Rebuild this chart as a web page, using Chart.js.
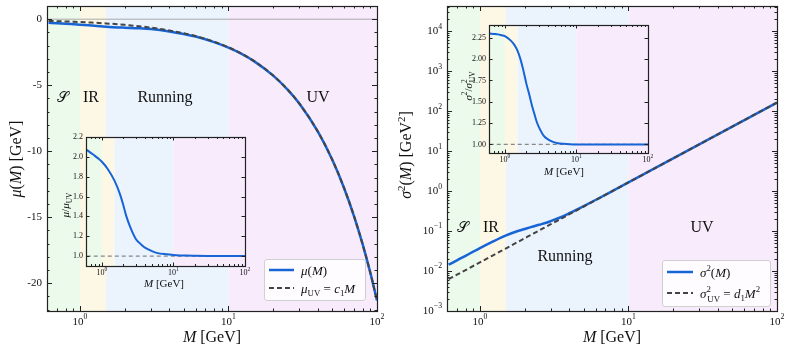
<!DOCTYPE html>
<html><head><meta charset="utf-8">
<script src="https://cdn.jsdelivr.net/npm/chart.js@4"></script>
<style>
body{margin:0;width:793px;height:355px;overflow:hidden;background:#fff;font-family:"Liberation Serif","DejaVu Serif",serif;}
canvas{position:absolute;left:0;top:0;}
.t{position:absolute;white-space:nowrap;color:#111;transform:translate(-50%,-50%);line-height:1;}
.r{transform:translate(-50%,-50%) rotate(-90deg);}
sub,sup{font-size:0.68em;line-height:0;}
.leg{position:absolute;background:rgba(255,255,255,0.85);border:1px solid #d0d0d0;border-radius:3px;}
.leg svg{position:absolute;left:0;top:0;}
</style></head><body>
<canvas id="cL" width="793" height="355"></canvas>
<canvas id="cR" width="793" height="355"></canvas>
<canvas id="iL" width="793" height="355"></canvas>
<canvas id="iR" width="793" height="355"></canvas>

<div class="t" style="left:63px;top:97px;font-size:15px">𝒮</div>
<div class="t" style="left:91px;top:97px;font-size:16px">IR</div>
<div class="t" style="left:165px;top:97px;font-size:16px">Running</div>
<div class="t" style="left:318px;top:97px;font-size:16px">UV</div>
<div class="t" style="left:463px;top:227px;font-size:15px">𝒮</div>
<div class="t" style="left:491px;top:227px;font-size:16px">IR</div>
<div class="t" style="left:565px;top:256px;font-size:16px">Running</div>
<div class="t" style="left:702px;top:227px;font-size:16px">UV</div>

<div class="t" style="left:212px;top:337px;font-size:16px"><i>M</i> [GeV]</div>
<div class="t" style="left:612px;top:337px;font-size:16px"><i>M</i> [GeV]</div>
<div class="t r" style="left:16px;top:159px;font-size:16px"><i>μ</i>(<i>M</i>) [GeV]</div>
<div class="t r" style="left:406px;top:155px;font-size:16px"><i>σ</i><sup>2</sup>(<i>M</i>) [GeV<sup>2</sup>]</div>

<div class="t" style="left:164px;top:283px;font-size:11px"><i>M</i> [GeV]</div>
<div class="t r" style="left:65px;top:205px;font-size:11px"><i>μ</i>/<i>μ</i><sub>UV</sub></div>
<div class="t" style="left:564px;top:171px;font-size:11px"><i>M</i> [GeV]</div>
<div class="t r" style="left:468px;top:86px;font-size:11px"><i>σ</i><sup>2</sup>/<i>σ</i><sup>2</sup><sub style="margin-left:-0.4em">UV</sub></div>

<div class="leg" style="left:264px;top:259px;width:100px;height:40px">
<svg width="100" height="40"><line x1="4" y1="10" x2="29" y2="10" stroke="#1764d6" stroke-width="2.5"/><line x1="4" y1="28" x2="29" y2="28" stroke="#444" stroke-width="2" stroke-dasharray="5,3"/></svg>
<div class="t" style="left:36px;top:10px;transform:translateY(-50%);font-size:13px"><i>μ</i>(<i>M</i>)</div>
<div class="t" style="left:36px;top:28px;transform:translateY(-50%);font-size:13px"><i>μ</i><sub>UV</sub> = <i>c</i><sub>1</sub><i>M</i></div>
</div>
<div class="leg" style="left:662px;top:260px;width:107px;height:45px">
<svg width="107" height="45"><line x1="4" y1="11" x2="30" y2="11" stroke="#1764d6" stroke-width="2.5"/><line x1="4" y1="32" x2="30" y2="32" stroke="#444" stroke-width="2" stroke-dasharray="5,3"/></svg>
<div class="t" style="left:37px;top:11px;transform:translateY(-50%);font-size:13px"><i>σ</i><sup>2</sup>(<i>M</i>)</div>
<div class="t" style="left:37px;top:32px;transform:translateY(-50%);font-size:13px"><i>σ</i><sup>2</sup><sub style="margin-left:-0.4em">UV</sub> = <i>d</i><sub>1</sub><i>M</i><sup>2</sup></div>
</div>

<script>
// ---------- data ----------
const M_mu = [0.615,0.7,0.8,0.9,1.0,1.2,1.5,1.8,2.0,2.5,3.0,4.0,5.0,6.0,8.0,10,12,15,20,25,30,40,50,60,70,80,90,100];
const mu   = [-0.27,-0.304,-0.342,-0.380,-0.415,-0.481,-0.563,-0.620,-0.643,-0.688,-0.748,-0.924,-1.118,-1.316,-1.735,-2.156,-2.576,-3.211,-4.273,-5.33,-6.39,-8.52,-10.65,-12.78,-14.91,-17.04,-19.17,-21.3];
const muUV = [-0.131,-0.149,-0.170,-0.192,-0.213,-0.256,-0.320,-0.383,-0.426,-0.533,-0.639,-0.852,-1.065,-1.278,-1.704,-2.13,-2.556,-3.195,-4.26,-5.325,-6.39,-8.52,-10.65,-12.78,-14.91,-17.04,-19.17,-21.3];

const M_s    = [0.615,0.7,0.8,0.9,1.0,1.2,1.5,1.8,2.0,2.2,2.5,2.8,3.0,3.5,4.0,5.0,6.0,8.0,10,20,50,100];
const sig2   = [0.0144,0.01855,0.0241,0.0305,0.0375,0.0528,0.078,0.1005,0.113,0.126,0.144,0.162,0.178,0.222,0.280,0.423,0.600,1.059,1.65,6.6,41.25,165];
const sig2UV = [0.00624,0.00809,0.01056,0.01337,0.0165,0.02376,0.0371,0.0535,0.066,0.0799,0.103,0.1294,0.1485,0.2021,0.264,0.4125,0.594,1.056,1.65,6.6,41.25,165];

const M_r1    = [0.615,0.7,0.8,0.9,1.0,1.2,1.5,1.8,2.0,2.2,2.5,3.0,3.5,4.0,5.0,6.0,8.0,10,15,20,30,50,100];
const ratioMu = [2.07,2.04,2.01,1.98,1.95,1.88,1.76,1.62,1.51,1.40,1.29,1.17,1.12,1.085,1.05,1.03,1.018,1.012,1.005,1.003,1.001,1.0,1.0];
const M_r2     = [0.615,0.7,0.8,0.9,1.0,1.2,1.35,1.5,1.65,1.8,2.0,2.2,2.4,2.6,2.8,3.0,3.5,4.0,4.8,5.5,6.6,8,10,20,50,100];
const ratioSig = [2.30,2.295,2.29,2.28,2.27,2.22,2.17,2.10,2.00,1.88,1.71,1.58,1.45,1.35,1.26,1.20,1.10,1.06,1.027,1.015,1.008,1.003,1.0,1.0,1.0,1.0];
const refLine  = [1.0,1.0];
const refM     = [0.615,100];

const bandEdges  = [0.5,1.0,1.5,10,100];
const bandColors = ['#ebfaeb','#fdf8e6','#ebf3fd','#f8ebfc'];

const xMajor = [1,10,100];
const xMajorExp = ['0','1','2'];
const xMinor = [0.7,0.8,0.9,2,3,4,5,6,7,8,9,20,30,40,50,60,70,80,90];
const yLeftMajor = [0,-5,-10,-15,-20];
const yLeftLabels = ['0','-5','-10','-15','-20'];
const yLeftMinor = [-1,-2,-3,-4,-6,-7,-8,-9,-11,-12,-13,-14,-16,-17,-18,-19,-21,-22];
const yRightMajor = [1e-3,1e-2,1e-1,1,10,100,1e3,1e4];
const yRightExp = ['−3','−2','−1','0','1','2','3','4'];
const yRightMinor = [];
for (let k=-3;k<=4;k++) for (let m=2;m<=9;m++) { const v=m*Math.pow(10,k); if (v<4.3e4) yRightMinor.push(v); }
const iLMajor = [1.0,1.2,1.4,1.6,1.8,2.0,2.2];
const iLLabels = ['1.0','1.2','1.4','1.6','1.8','2.0','2.2'];
const iRMajor = [1.0,1.25,1.5,1.75,2.0,2.25];
const iRLabels = ['1.00','1.25','1.50','1.75','2.00','2.25'];

const BLUE='#1764d6', DARK='#444';
const SERIF='"Liberation Serif","DejaVu Serif",serif';

function pts(xs,ys){return xs.map((x,i)=>({x:x,y:ys[i]}));}

function drawPow(ctx,base,exp,x,y,size,align){
  ctx.font=size+'px '+SERIF;
  const w1=ctx.measureText(base).width;
  ctx.font=(size*0.7)+'px '+SERIF;
  const w2=ctx.measureText(exp).width;
  const tot=w1+w2;
  let sx = align==='center'? x-tot/2 : (align==='right'? x-tot : x);
  ctx.textAlign='left'; ctx.textBaseline='middle';
  ctx.font=size+'px '+SERIF; ctx.fillText(base,sx,y);
  ctx.font=(size*0.7)+'px '+SERIF; ctx.fillText(exp,sx+w1,y-size*0.42);
}

function axesPlugin(o){
  return {
    id:'axes_'+o.name,
    beforeDatasetsDraw(chart){
      const {ctx,chartArea:a,scales}=chart; const xs=scales.x, ys=scales.y;
      ctx.save();
      if(o.white){ctx.fillStyle='#fff';ctx.fillRect(a.left,a.top,a.width,a.height);}
      for(let i=0;i<bandEdges.length-1;i++){
        const x0=Math.max(a.left,xs.getPixelForValue(bandEdges[i]));
        const x1=Math.min(a.right,xs.getPixelForValue(bandEdges[i+1]));
        if(x1>x0){ctx.fillStyle=bandColors[i];ctx.fillRect(x0,a.top,x1-x0,a.height);}
      }
      if(o.zeroLine){const py=ys.getPixelForValue(0);ctx.strokeStyle='#aaa';ctx.lineWidth=1;ctx.beginPath();ctx.moveTo(a.left,py);ctx.lineTo(a.right,py);ctx.stroke();}
      ctx.restore();
    },
    afterDraw(chart){
      const {ctx,chartArea:a,scales}=chart; const xs=scales.x, ys=scales.y;
      ctx.save();
      ctx.strokeStyle='#222'; ctx.lineWidth=1; ctx.fillStyle='#111';
      const tick=(x1,y1,x2,y2)=>{ctx.beginPath();ctx.moveTo(x1,y1);ctx.lineTo(x2,y2);ctx.stroke();};
      const L=o.maj, l=o.min;
      xMajor.forEach(v=>{const p=Math.round(xs.getPixelForValue(v))+0.5; tick(p,a.bottom,p,a.bottom-L); tick(p,a.top,p,a.top+L);});
      xMinor.forEach(v=>{const p=Math.round(xs.getPixelForValue(v))+0.5; if(p<a.left||p>a.right) return; tick(p,a.bottom,p,a.bottom-l); tick(p,a.top,p,a.top+l);});
      o.yMajor.forEach(v=>{const p=Math.round(ys.getPixelForValue(v))+0.5; tick(a.left,p,a.left+L,p); tick(a.right,p,a.right-L,p);});
      (o.yMinor||[]).forEach(v=>{const p=Math.round(ys.getPixelForValue(v))+0.5; if(p<a.top||p>a.bottom) return; tick(a.left,p,a.left+l,p); tick(a.right,p,a.right-l,p);});
      ctx.strokeStyle='#222'; ctx.lineWidth=1.2;
      ctx.strokeRect(Math.round(a.left)+0.5,Math.round(a.top)+0.5,Math.round(a.width),Math.round(a.height));
      xMajor.forEach((v,i)=>{const p=xs.getPixelForValue(v); drawPow(ctx,'10',xMajorExp[i],p,a.bottom+o.xlOff,o.fs,'center');});
      o.yMajor.forEach((v,i)=>{const p=ys.getPixelForValue(v);
        if(o.yExp){drawPow(ctx,'10',o.yExp[i],a.left-o.ylOff,p,o.fs,'right');}
        else{ctx.font=o.fs+'px '+SERIF;ctx.textAlign='right';ctx.textBaseline='middle';ctx.fillText(o.yLabels[i],a.left-o.ylOff,p);}
      });
      ctx.restore();
    }
  };
}

function make(id,pad,xmin,ymin,ymax,ylog,datasets,axo){
  return new Chart(document.getElementById(id),{
    type:'line',
    data:{datasets:datasets},
    options:{
      responsive:false,animation:false,devicePixelRatio:1,
      layout:{padding:pad},
      plugins:{legend:{display:false},tooltip:{enabled:false}},
      elements:{point:{radius:0},line:{cubicInterpolationMode:'monotone'}},
      scales:{
        x:{type:'logarithmic',min:xmin,max:100,display:false},
        y:{type:ylog?'logarithmic':'linear',min:ymin,max:ymax,display:false}
      }
    },
    plugins:[axesPlugin(axo)]
  });
}

make('cL',{left:47,top:6,right:416,bottom:44},0.615,-22.1,1,false,[
  {data:pts(M_mu,muUV),borderColor:DARK,borderWidth:2,borderDash:[5,3],order:0},
  {data:pts(M_mu,mu),borderColor:BLUE,borderWidth:2.5,order:1}
],{name:'L',maj:5,min:2.5,yMajor:yLeftMajor,yMinor:yLeftMinor,yLabels:yLeftLabels,fs:11,xlOff:11,ylOff:5,zeroLine:true});

make('cR',{left:447,top:6,right:16,bottom:44},0.615,1e-3,4.3e4,true,[
  {data:pts(M_s,sig2UV),borderColor:DARK,borderWidth:2,borderDash:[5,3],order:0},
  {data:pts(M_s,sig2),borderColor:BLUE,borderWidth:2.5,order:1}
],{name:'R',maj:5,min:2.5,yMajor:yRightMajor,yMinor:yRightMinor,yExp:yRightExp,fs:11,xlOff:11,ylOff:5});

make('iL',{left:86,top:137,right:548,bottom:89},0.6,0.9,2.2,false,[
  {data:pts(M_r1,ratioMu),borderColor:BLUE,borderWidth:2,order:0},
  {data:pts(refM,refLine),borderColor:'#888',borderWidth:1.2,borderDash:[4,3],order:1}
],{name:'IL',maj:3.5,min:2,yMajor:iLMajor,yLabels:iLLabels,fs:8,xlOff:7,ylOff:3,white:true});

make('iR',{left:489,top:25,right:145,bottom:202},0.62,0.9,2.4,false,[
  {data:pts(M_r2,ratioSig),borderColor:BLUE,borderWidth:2,order:0},
  {data:pts(refM,refLine),borderColor:'#888',borderWidth:1.2,borderDash:[4,3],order:1}
],{name:'IR',maj:3.5,min:2,yMajor:iRMajor,yLabels:iRLabels,fs:8,xlOff:7,ylOff:3,white:true});
</script>
</body></html>
